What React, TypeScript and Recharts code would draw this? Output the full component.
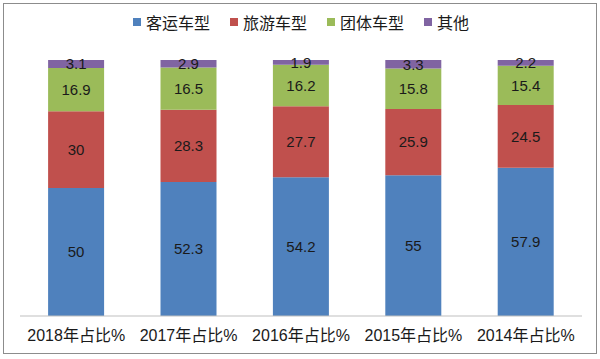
import { BarChart, Bar, XAxis, YAxis, Legend, LabelList } from "recharts";

const categories = ["2018年占比%", "2017年占比%", "2016年占比%", "2015年占比%", "2014年占比%"];
const passenger = [50, 52.3, 54.2, 55, 57.9];
const tourism = [30, 28.3, 27.7, 25.9, 24.5];
const group = [16.9, 16.5, 16.2, 15.8, 15.4];
const other = [3.1, 2.9, 1.9, 3.3, 2.2];

const series = [
  { key: "passenger", name: "客运车型", color: "#4F81BD" },
  { key: "tourism", name: "旅游车型", color: "#C0504D" },
  { key: "group", name: "团体车型", color: "#9BBB59" },
  { key: "other", name: "其他", color: "#8064A2" },
];

const data = categories.map((c, i) => ({
  name: c,
  passenger: passenger[i],
  tourism: tourism[i],
  group: group[i],
  other: other[i],
}));

const font = "'Liberation Sans', 'Noto Sans CJK SC', sans-serif";

const renderLegend = () => (
  <div style={{ display: "flex", justifyContent: "center", height: 26, alignItems: "center" }}>
    {series.map((s) => (
      <div key={s.key} style={{ display: "flex", alignItems: "center", margin: "0 10px", fontSize: 16, color: "#1a1a1a" }}>
        <span style={{ width: 8, height: 8, background: s.color, marginRight: 5, display: "inline-block" }} />
        {s.name}
      </div>
    ))}
  </div>
);

export default function App() {
  return (
    <div style={{ position: "absolute", left: 0, top: 0, width: 600, height: 359, background: "#fff", fontFamily: font }}>
      <div
        style={{
          position: "absolute",
          left: 3,
          top: 3,
          width: 592,
          height: 349,
          border: "1px solid #8c8c8c",
        }}
      />
      <BarChart
        width={600}
        height={359}
        data={data}
        barCategoryGap="25%"
        margin={{ top: 34, right: 18, left: 20, bottom: 0 }}
      >
        <XAxis
          dataKey="name"
          height={43}
          tickLine={false}
          axisLine={{ stroke: "#bfbfbf" }}
          tick={{ fontSize: 16, fill: "#1a1a1a" }}
          tickMargin={8}
        />
        <YAxis hide domain={[0, 100]} />
        <Legend verticalAlign="top" content={renderLegend} wrapperStyle={{ top: 9 }} />
        {series.map((s) => (
          <Bar key={s.key} dataKey={s.key} name={s.name} stackId="a" fill={s.color} isAnimationActive={false}>
            <LabelList dataKey={s.key} position="center" fill="#1a1a1a" fontSize={15} />
          </Bar>
        ))}
      </BarChart>
    </div>
  );
}
